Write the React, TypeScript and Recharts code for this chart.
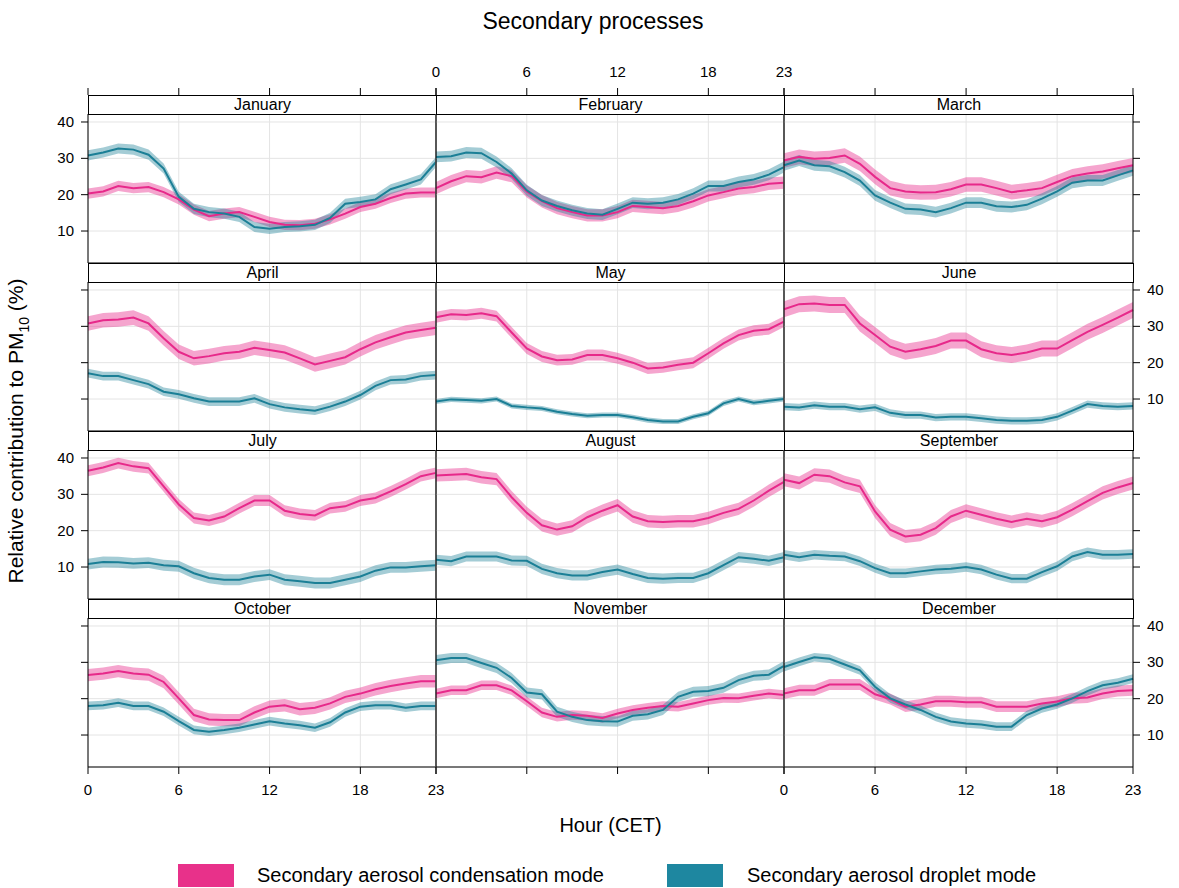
import React from "react";
import {
  ComposedChart,
  Area,
  Line,
  XAxis,
  YAxis,
  CartesianGrid,
} from "recharts";

const hours = [0, 1, 2, 3, 4, 5, 6, 7, 8, 9, 10, 11, 12, 13, 14, 15, 16, 17, 18, 19, 20, 21, 22, 23];
const hourTicks = [0, 6, 12, 18, 23];
const pctTicks = [10, 20, 30, 40];

const months = [
  "January", "February", "March", "April", "May", "June",
  "July", "August", "September", "October", "November", "December",
];

// condensation mode (pink) and droplet mode (teal), mean diurnal cycle per month
const condJan = [20.3, 20.9, 22.4, 21.8, 22.1, 20.7, 18.7, 15.9, 14.1, 14.8, 15.2, 13.9, 12.5, 11.7, 11.6, 12.0, 13.2, 14.8, 16.6, 17.5, 19.1, 20.3, 20.6, 20.6];
const dropJan = [30.8, 31.6, 32.7, 32.4, 31.0, 27.2, 19.4, 16.1, 15.2, 14.8, 13.9, 11.1, 10.6, 11.1, 11.3, 11.7, 13.6, 17.5, 18.0, 18.7, 21.5, 22.8, 24.2, 29.0];
const condFeb = [21.8, 23.7, 25.1, 24.8, 26.1, 25.1, 20.9, 18.2, 16.3, 15.2, 14.3, 14.3, 15.2, 16.9, 16.6, 16.3, 16.9, 18.2, 19.8, 20.7, 21.7, 22.1, 23.0, 23.3];
const dropFeb = [30.4, 30.6, 31.6, 31.4, 29.0, 25.8, 21.2, 18.4, 16.9, 15.7, 14.8, 14.5, 16.1, 17.8, 17.5, 17.8, 18.7, 20.3, 22.4, 22.4, 23.5, 24.2, 25.5, 27.6];
const condMar = [29.4, 30.4, 29.9, 30.1, 30.8, 28.5, 24.9, 21.8, 20.9, 20.6, 20.7, 21.5, 22.8, 22.8, 21.8, 20.7, 21.2, 21.8, 23.5, 25.1, 25.8, 26.4, 27.3, 28.1];
const dropMar = [28.1, 29.4, 28.1, 27.8, 26.2, 23.9, 19.8, 17.8, 16.1, 15.9, 15.2, 16.3, 17.8, 17.8, 16.8, 16.6, 17.2, 18.9, 20.9, 23.3, 23.9, 23.9, 25.3, 26.7];
const condApr = [30.8, 31.7, 31.9, 32.4, 30.8, 26.7, 23.0, 21.2, 21.8, 22.6, 23.0, 24.1, 23.5, 22.8, 21.2, 19.5, 20.5, 21.5, 23.7, 25.6, 27.0, 28.3, 29.0, 29.6];
const dropApr = [17.1, 16.3, 16.3, 15.2, 14.1, 12.0, 11.3, 10.2, 9.3, 9.3, 9.3, 10.2, 8.6, 7.7, 7.2, 6.8, 7.9, 9.3, 11.1, 13.6, 15.2, 15.4, 16.3, 16.6];
const condMay = [32.5, 33.3, 33.1, 33.6, 32.8, 28.3, 23.9, 21.7, 20.7, 20.9, 22.1, 22.1, 21.2, 20.0, 18.4, 18.7, 19.4, 20.0, 22.6, 25.3, 27.6, 28.8, 29.2, 31.3];
const dropMay = [9.3, 9.9, 9.7, 9.5, 10.0, 8.1, 7.7, 7.4, 6.5, 5.9, 5.4, 5.6, 5.6, 5.0, 4.2, 3.8, 3.8, 5.1, 6.1, 8.8, 10.0, 9.0, 9.5, 10.0];
const condJun = [34.7, 36.1, 36.3, 35.9, 35.9, 30.8, 27.6, 24.4, 23.0, 23.7, 24.6, 26.1, 26.1, 23.7, 22.6, 22.1, 22.8, 23.9, 23.9, 26.2, 28.5, 30.4, 32.4, 34.5];
const dropJun = [7.9, 7.7, 8.3, 7.9, 7.9, 7.2, 7.7, 6.2, 5.6, 5.6, 4.9, 5.1, 5.1, 4.7, 4.2, 4.0, 4.0, 4.2, 5.1, 6.8, 8.6, 8.1, 7.9, 8.1];
const condJul = [36.5, 37.4, 38.6, 37.7, 37.2, 32.2, 27.2, 23.5, 22.8, 23.9, 26.2, 28.3, 28.3, 25.5, 24.6, 24.2, 26.2, 26.7, 28.3, 29.0, 30.8, 32.8, 35.0, 35.9];
const dropJul = [10.8, 11.4, 11.3, 11.0, 11.2, 10.5, 10.2, 8.3, 7.0, 6.5, 6.5, 7.4, 7.9, 6.5, 6.1, 5.6, 5.6, 6.5, 7.4, 9.0, 9.9, 9.9, 10.2, 10.5];
const condAug = [35.2, 35.4, 35.6, 34.7, 34.2, 29.2, 24.9, 21.5, 20.3, 21.2, 23.7, 25.5, 27.0, 23.9, 22.6, 22.4, 22.6, 22.6, 23.5, 24.9, 26.0, 28.3, 31.0, 33.4];
const dropAug = [12.0, 11.6, 12.9, 12.9, 12.9, 11.8, 11.7, 9.5, 8.3, 7.7, 7.7, 8.6, 9.3, 8.1, 7.0, 6.8, 7.0, 7.0, 8.3, 10.5, 12.7, 12.3, 11.7, 12.7];
const condSep = [34.0, 33.1, 35.4, 35.0, 33.3, 32.2, 25.3, 20.3, 18.4, 18.9, 20.7, 23.9, 25.5, 24.4, 23.3, 22.4, 23.3, 22.6, 23.7, 25.8, 28.1, 30.4, 31.9, 33.1];
const dropSep = [13.4, 12.7, 13.4, 13.1, 12.9, 11.6, 9.7, 8.3, 8.3, 8.8, 9.3, 9.5, 10.0, 9.3, 7.9, 6.8, 6.8, 8.6, 10.2, 12.9, 14.1, 13.4, 13.4, 13.6];
const condOct = [26.5, 26.9, 27.6, 26.9, 26.6, 24.6, 20.1, 15.5, 14.3, 14.1, 14.1, 16.2, 17.8, 18.2, 17.1, 17.5, 18.7, 20.5, 21.4, 22.6, 23.5, 24.2, 24.8, 24.8];
const dropOct = [18.0, 18.2, 18.9, 18.0, 18.0, 16.4, 13.8, 11.4, 10.9, 11.4, 12.0, 12.9, 13.8, 13.2, 12.7, 12.0, 13.5, 16.2, 17.8, 18.2, 18.2, 17.5, 18.0, 18.0];
const condNov = [21.4, 22.3, 22.3, 23.7, 23.7, 22.3, 19.3, 16.2, 15.0, 15.5, 15.3, 14.7, 15.9, 16.9, 17.5, 18.0, 17.8, 18.7, 19.6, 20.2, 20.1, 20.8, 21.4, 21.0];
const dropNov = [30.6, 31.2, 31.2, 29.8, 28.5, 25.7, 21.7, 21.2, 16.4, 15.0, 14.1, 13.8, 13.7, 15.3, 15.7, 16.9, 20.5, 21.9, 22.1, 23.0, 25.1, 26.3, 26.6, 29.0];
const condDec = [21.4, 22.3, 22.3, 23.9, 23.9, 23.9, 21.2, 19.9, 17.8, 18.4, 19.3, 19.3, 19.0, 19.0, 17.8, 17.8, 17.8, 18.7, 19.2, 20.1, 20.3, 21.4, 22.1, 22.3];
const dropDec = [28.7, 30.1, 31.4, 31.0, 29.4, 27.8, 23.3, 20.1, 18.4, 16.9, 15.0, 13.7, 13.2, 12.9, 12.3, 12.3, 15.5, 17.3, 18.4, 20.1, 22.1, 23.7, 24.4, 25.5];

// half-width of the confidence band, one value per month
const condCI = [1.4, 1.7, 2.0, 2.0, 1.5, 2.2, 1.5, 1.7, 1.8, 1.7, 1.3, 1.5];
const dropCI = [1.4, 1.5, 1.5, 1.2, 0.7, 1.0, 1.5, 1.4, 1.3, 1.2, 1.4, 1.2];

const condByMonth = [condJan, condFeb, condMar, condApr, condMay, condJun, condJul, condAug, condSep, condOct, condNov, condDec];
const dropByMonth = [dropJan, dropFeb, dropMar, dropApr, dropMay, dropJun, dropJul, dropAug, dropSep, dropOct, dropNov, dropDec];

const PINK = "#e7298a";
const TEAL = "#1b7f96";
const FONT = "'Liberation Sans', Arial, Helvetica, sans-serif";

const PAD = 60;
const PANEL_H = 149;
const STRIP_H = 19;
const COL_LEFT = [88, 436, 784];
const COL_W = [348, 348, 349];
const ROW_TOP = [114, 282, 450, 618];
const Y_DOMAIN: [number, number] = [1.2, 42.2];
const TICK = 7;

function panelRows(m: number) {
  const c = condByMonth[m];
  const d = dropByMonth[m];
  return hours.map((h, i) => ({
    hour: h,
    cond: c[i],
    condBand: [c[i] - condCI[m], c[i] + condCI[m]],
    drop: d[i],
    dropBand: [d[i] - dropCI[m], d[i] + dropCI[m]],
  }));
}

const labelStyle = { fontFamily: FONT, fontSize: 15, fill: "#000" };

function Panel({ m }: { m: number }) {
  const row = Math.floor(m / 3);
  const col = m % 3;
  const w = COL_W[col];
  const data = panelRows(m);
  const bottomEdge = PAD + PANEL_H;
  const rightEdge = PAD + w;

  const topTick = (p: any) => {
    if (row !== 0) return <g />;
    const y0 = PAD - STRIP_H;
    return (
      <g>
        <line x1={p.x} x2={p.x} y1={y0} y2={y0 - TICK} stroke="#000" />
        {col === 1 && (
          <text x={p.x} y={y0 - 18} textAnchor="middle" style={labelStyle}>
            {p.payload.value}
          </text>
        )}
      </g>
    );
  };
  const bottomTick = (p: any) => {
    if (row !== 3) return <g />;
    return (
      <g>
        <line x1={p.x} x2={p.x} y1={bottomEdge} y2={bottomEdge + TICK} stroke="#000" />
        {col !== 1 && (
          <text x={p.x} y={bottomEdge + 28} textAnchor="middle" style={labelStyle}>
            {p.payload.value}
          </text>
        )}
      </g>
    );
  };
  const leftTick = (p: any) => {
    if (col !== 0) return <g />;
    return (
      <g>
        <line x1={PAD} x2={PAD - TICK} y1={p.y} y2={p.y} stroke="#000" />
        {row % 2 === 0 && (
          <text x={PAD - 14} y={p.y + 5} textAnchor="end" style={labelStyle}>
            {p.payload.value}
          </text>
        )}
      </g>
    );
  };
  const rightTick = (p: any) => {
    if (col !== 2) return <g />;
    return (
      <g>
        <line x1={rightEdge} x2={rightEdge + TICK} y1={p.y} y2={p.y} stroke="#000" />
        {row % 2 === 1 && (
          <text x={rightEdge + 14} y={p.y + 5} textAnchor="start" style={labelStyle}>
            {p.payload.value}
          </text>
        )}
      </g>
    );
  };

  return (
    <>
      <div
        style={{
          position: "absolute",
          left: COL_LEFT[col] - PAD,
          top: ROW_TOP[row] - PAD,
        }}
      >
        <ComposedChart
          width={w + 2 * PAD}
          height={PANEL_H + 2 * PAD}
          data={data}
          margin={{ top: 0, right: 0, bottom: 0, left: 0 }}
        >
          <CartesianGrid stroke="#e4e4e4" strokeWidth={1} />
          <XAxis
            dataKey="hour"
            type="number"
            domain={[0, 23]}
            ticks={hourTicks}
            height={PAD}
            axisLine={{ stroke: "#000" }}
            tickLine={false}
            tick={bottomTick}
          />
          <XAxis
            xAxisId="top"
            orientation="top"
            dataKey="hour"
            type="number"
            domain={[0, 23]}
            ticks={hourTicks}
            height={PAD}
            axisLine={{ stroke: "#000" }}
            tickLine={false}
            tick={topTick}
          />
          <YAxis
            dataKey="cond"
            type="number"
            domain={Y_DOMAIN}
            allowDataOverflow
            ticks={pctTicks}
            width={PAD}
            axisLine={{ stroke: "#000" }}
            tickLine={false}
            tick={leftTick}
          />
          <YAxis
            yAxisId="right"
            orientation="right"
            dataKey="cond"
            type="number"
            domain={Y_DOMAIN}
            allowDataOverflow
            ticks={pctTicks}
            width={PAD}
            axisLine={{ stroke: "#000" }}
            tickLine={false}
            tick={rightTick}
          />
          <Area
            dataKey="condBand"
            type="linear"
            stroke="none"
            fill={PINK}
            fillOpacity={0.42}
            isAnimationActive={false}
          />
          <Line
            dataKey="cond"
            type="linear"
            stroke={PINK}
            strokeWidth={2}
            dot={false}
            isAnimationActive={false}
          />
          <Area
            dataKey="dropBand"
            type="linear"
            stroke="none"
            fill={TEAL}
            fillOpacity={0.4}
            isAnimationActive={false}
          />
          <Line
            dataKey="drop"
            type="linear"
            stroke={TEAL}
            strokeWidth={2}
            dot={false}
            isAnimationActive={false}
          />
        </ComposedChart>
      </div>
      <div
        style={{
          position: "absolute",
          left: COL_LEFT[col],
          top: ROW_TOP[row] - STRIP_H,
          width: w + 1,
          height: STRIP_H + 1,
          boxSizing: "border-box",
          border: "1px solid #000",
          background: "#fff",
          fontFamily: FONT,
          fontSize: 16,
          lineHeight: `${STRIP_H - 2}px`,
          textAlign: "center",
          color: "#000",
        }}
      >
        {months[m]}
      </div>
    </>
  );
}

export default function App() {
  return (
    <div
      style={{
        position: "absolute",
        left: 0,
        top: 0,
        width: 1179,
        height: 888,
        background: "#fff",
        fontFamily: FONT,
        overflow: "hidden",
      }}
    >
      <div
        style={{
          position: "absolute",
          left: 0,
          width: 1186,
          top: 8,
          textAlign: "center",
          fontSize: 23,
          color: "#000",
        }}
      >
        Secondary processes
      </div>
      {months.map((_, m) => (
        <Panel key={m} m={m} />
      ))}
      <div
        style={{
          position: "absolute",
          left: 18,
          top: 431,
          transform: "translate(-50%, -50%) rotate(-90deg)",
          whiteSpace: "nowrap",
          fontSize: 21,
          color: "#000",
        }}
      >
        Relative contribution to PM<sub style={{ fontSize: 14 }}>10</sub> (%)
      </div>
      <div
        style={{
          position: "absolute",
          left: 0,
          width: 1221,
          top: 814,
          textAlign: "center",
          fontSize: 20,
          color: "#000",
        }}
      >
        Hour (CET)
      </div>
      <div style={{ position: "absolute", left: 178, top: 864, width: 56, height: 23, background: "#e8318a" }} />
      <div style={{ position: "absolute", left: 257, top: 863, fontSize: 20, lineHeight: "24px", color: "#000" }}>
        Secondary aerosol condensation mode
      </div>
      <div style={{ position: "absolute", left: 667, top: 864, width: 56, height: 23, background: "#1e87a0" }} />
      <div style={{ position: "absolute", left: 747, top: 863, fontSize: 20, lineHeight: "24px", color: "#000" }}>
        Secondary aerosol droplet mode
      </div>
    </div>
  );
}
